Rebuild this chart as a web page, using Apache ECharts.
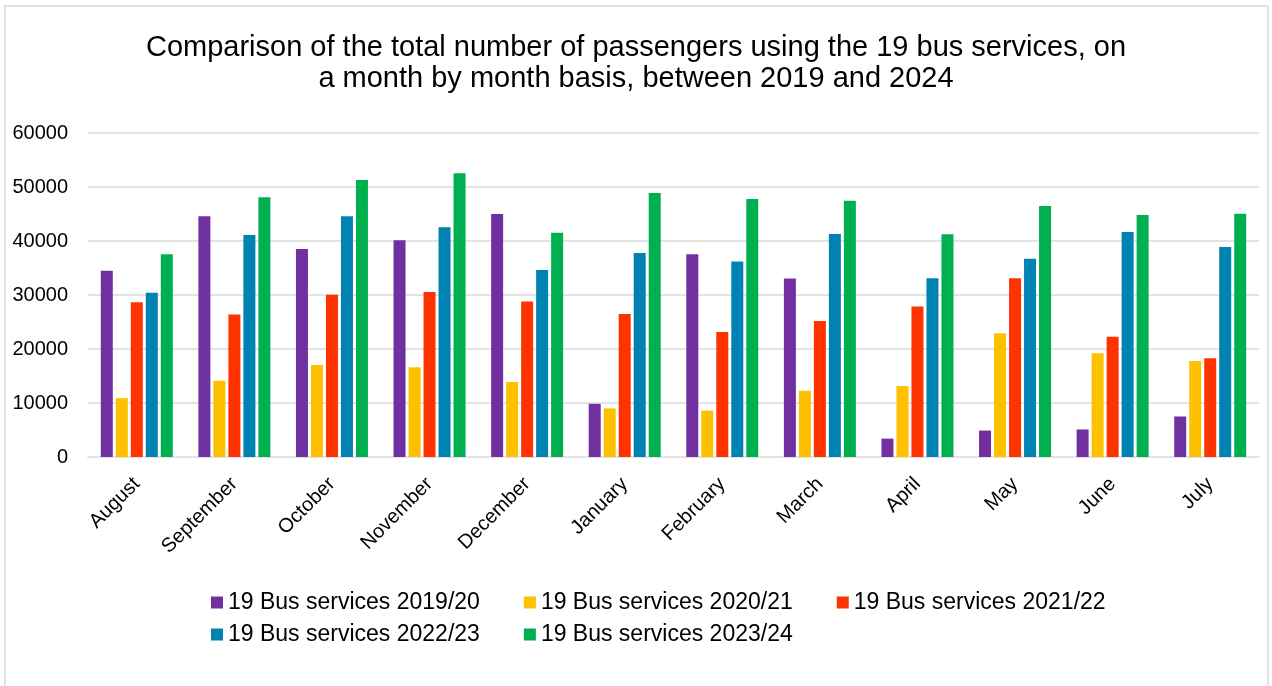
<!DOCTYPE html>
<html>
<head>
<meta charset="utf-8">
<title>19 bus services</title>
<script src="https://cdn.jsdelivr.net/npm/echarts@6/dist/echarts.min.js"></script>
<style>
    html, body { margin: 0; padding: 0; background: #fff; }
    #chart { width: 1272px; height: 686px; }
</style>
</head>
<body>
<div id="chart"></div>
<script>
// months
var months = ['August', 'September', 'October', 'November', 'December', 'January',
    'February', 'March', 'April', 'May', 'June', 'July'];

// passengers per month
var bus2019 = [34500, 44600, 38500, 40150, 45000, 9850, 37550, 33050, 3400, 4900, 5100, 7500];
var bus2020 = [10900, 14100, 17050, 16600, 13900, 9000, 8600, 12250, 13150, 22900, 19200, 17800];
var bus2021 = [28650, 26400, 30050, 30550, 28800, 26500, 23150, 25200, 27850, 33100, 22250, 18300];
var bus2022 = [30400, 41100, 44600, 42550, 34650, 37800, 36200, 41300, 33100, 36700, 41650, 38900];
var bus2023 = [37550, 48100, 51300, 52550, 41550, 48900, 47800, 47450, 41250, 46500, 44800, 45050];

var seriesNames = ['19 Bus services 2019/20', '19 Bus services 2020/21', '19 Bus services 2021/22',
    '19 Bus services 2022/23', '19 Bus services 2023/24'];
var seriesColors = ['#7030A0', '#FFC000', '#FF3300', '#0083B3', '#00B050'];

var yTicks = [0, 10000, 20000, 30000, 40000, 50000, 60000];

var titleLines = ['Comparison of the total number of passengers using the 19 bus services, on',
    'a month by month basis, between 2019 and 2024'];

function makeBar(i, data) {
    return {
        name: seriesNames[i],
        type: 'bar',
        data: data,
        barWidth: 12,
        barGap: '25%',
        itemStyle: { color: seriesColors[i] }
    };
}

var font = 'Liberation Sans, Arial, sans-serif';

function titleLine(text, top) {
    return {
        text: text,
        left: 'center',
        top: top,
        padding: 0,
        textStyle: { fontFamily: font, fontSize: 29, fontWeight: 'normal', color: '#000' }
    };
}

function legendRow(names, top) {
    return {
        data: names,
        left: 211,
        top: top,
        itemWidth: 12,
        itemHeight: 12,
        itemGap: 44,
        icon: 'rect',
        padding: 0,
        textStyle: { fontFamily: font, fontSize: 23, color: '#000' }
    };
}

var chart = echarts.init(document.getElementById('chart'));

var option = {
    animation: false,
    backgroundColor: '#fff',
    textStyle: { fontFamily: font },
    graphic: [{
        type: 'rect',
        shape: { x: 5, y: 6, width: 1263, height: 700 },
        style: { fill: 'none', stroke: '#e2e2e2', lineWidth: 2 },
        silent: true
    }],
    title: [
        titleLine(titleLines[0], 33),
        titleLine(titleLines[1], 64)
    ],
    legend: [
        legendRow(seriesNames.slice(0, 3), 591),
        legendRow(seriesNames.slice(3), 623)
    ],
    grid: {
        left: 88,
        right: 13,
        top: 133,
        bottom: 229,
        containLabel: false
    },
    xAxis: {
        type: 'category',
        data: months,
        axisTick: { show: false },
        axisLine: { lineStyle: { color: '#e3e3e3', width: 2 } },
        axisLabel: {
            rotate: 45,
            interval: 0,
            margin: 24,
            color: '#000',
            fontFamily: font,
            fontSize: 20
        }
    },
    yAxis: {
        type: 'value',
        min: yTicks[0],
        max: yTicks[yTicks.length - 1],
        interval: 10000,
        axisLine: { show: false },
        axisTick: { show: false },
        splitLine: { lineStyle: { color: '#e3e3e3', width: 2 } },
        axisLabel: {
            margin: 20,
            color: '#000',
            fontFamily: font,
            fontSize: 20,
            formatter: function (v) { return String(v); }
        }
    },
    series: [
        makeBar(0, bus2019),
        makeBar(1, bus2020),
        makeBar(2, bus2021),
        makeBar(3, bus2022),
        makeBar(4, bus2023)
    ]
};

chart.setOption(option);
</script>
</body>
</html>
